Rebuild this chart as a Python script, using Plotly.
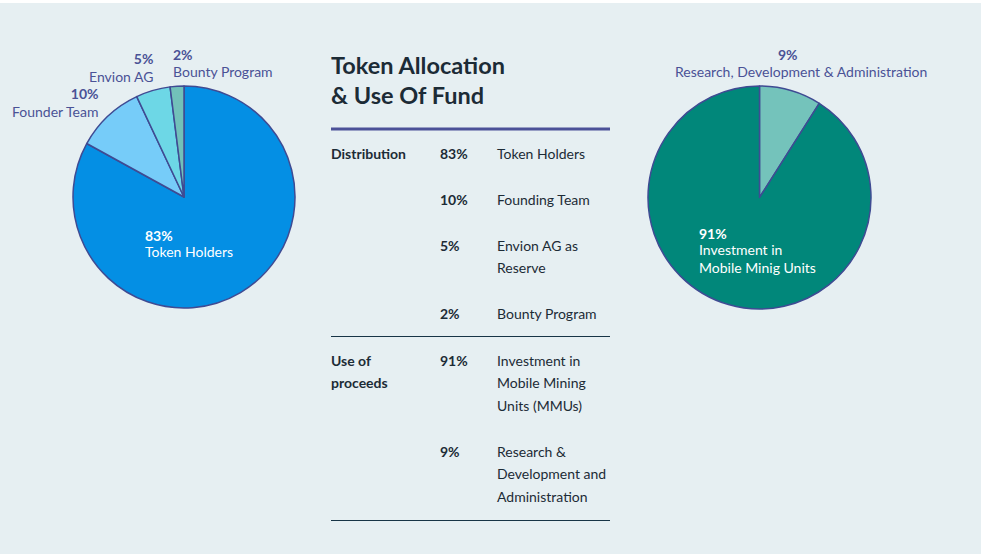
import plotly.graph_objects as go

W, H = 981, 554

# ---- data ----
dist_labels = ["Token Holders", "Founder Team", "Envion AG", "Bounty Program"]
dist_values = [83, 10, 5, 2]
dist_colors = ["#048fe4", "#76ccf9", "#6dd7e6", "#72c1b9"]

fund_labels = ["Investment in<br>Mobile Minig Units", "Research, Development & Administration"]
fund_values = [91, 9]
fund_colors = ["#01877a", "#74c3bb"]
fund_order = [1, 0]  # clockwise from top: Research first

table_title = ["Token Allocation", "& Use Of Fund"]
table_rows = [
    # (section, pct, description lines, y of first line)
    ("Distribution", "83%", ["Token Holders"], 155),
    ("", "10%", ["Founding Team"], 200),
    ("", "5%", ["Envion AG as", "Reserve"], 246),
    ("", "2%", ["Bounty Program"], 314),
    ("Use of<br>proceeds", "91%", ["Investment in", "Mobile Mining", "Units (MMUs)"], 361),
    ("", "9%", ["Research &", "Development and", "Administration"], 452),
]

BG = "#e6eff2"
EDGE = "#3f4b93"
LABEL = "#4a5296"
DARK = "#1c2b36"
FONT = "Lato"
PAD = 2   # annotation internal padding compensation
DY = -1   # vertical nudge


def px(x):
    return x / W


def py(y):
    return 1 - y / H


fig = go.Figure()

fig.add_trace(go.Pie(
    labels=dist_labels, values=dist_values, sort=False, direction="clockwise",
    rotation=0, marker=dict(colors=dist_colors, line=dict(color=EDGE, width=1.5)),
    textinfo="none", hoverinfo="label+percent", showlegend=False,
    domain=dict(x=[px(73), px(295)], y=[py(308), py(86)]),
))

fig.add_trace(go.Pie(
    labels=[fund_labels[i] for i in fund_order], values=[fund_values[i] for i in fund_order],
    sort=False, direction="clockwise", rotation=0,
    marker=dict(colors=[fund_colors[i] for i in fund_order], line=dict(color=EDGE, width=1.5)),
    textinfo="none", hoverinfo="label+percent", showlegend=False,
    domain=dict(x=[px(648), px(871)], y=[py(309), py(86)]),
))

ann = []


def txt(x, y, s, size=14, color=LABEL, xanchor="left", bold=False):
    if bold:
        s = "<b>" + s + "</b>"
    if xanchor == "left":
        x -= PAD
    elif xanchor == "right":
        x += PAD
    ann.append(dict(x=px(x), y=py(y + DY), xref="paper", yref="paper", text=s, showarrow=False,
                    xanchor=xanchor, yanchor="middle", align=xanchor if xanchor != "center" else "center",
                    font=dict(family=FONT, size=size, color=color)))


# left pie labels
lbl = dict(zip(dist_labels, dist_values))
txt(153, 69, f"<b>{lbl['Envion AG']}%</b><br>Envion AG", xanchor="right")
txt(173, 56, f"{lbl['Bounty Program']}%", bold=True)
txt(173, 72, "Bounty Program")
txt(99, 104, f"<b>{lbl['Founder Team']}%</b><br>Founder Team", xanchor="right")
txt(145, 236, f"{lbl['Token Holders']}%", color="white", bold=True)
txt(145, 252, "Token Holders", color="white")

# right pie labels
txt(788, 56, f"{fund_values[1]}%", xanchor="center", bold=True)
txt(801, 72, fund_labels[1], xanchor="center")
txt(699, 234, f"{fund_values[0]}%", color="white", bold=True)
txt(699, 251, "Investment in", color="white")
txt(699, 268, "Mobile Minig Units", color="white")

# table
txt(331, 66, table_title[0], size=23.5, color=DARK, bold=True)
txt(331, 96, table_title[1], size=23.5, color=DARK, bold=True)
LH = 22.6
for sec, pct, desc, y0 in table_rows:
    if sec:
        for i, part in enumerate(sec.split("<br>")):
            txt(331, y0 + i * LH, part, size=14, color=DARK, bold=True)
    txt(440, y0, pct, size=14, color=DARK, bold=True)
    for i, d in enumerate(desc):
        txt(497, y0 + i * LH, d, size=14, color=DARK)

shapes = [
    dict(type="rect", xref="paper", yref="paper", x0=0, x1=1, y0=py(3), y1=1,
         fillcolor="white", line=dict(width=0), layer="below"),
    dict(type="line", xref="paper", yref="paper", x0=px(331), x1=px(610), y0=py(129), y1=py(129),
         line=dict(color="#4b5198", width=3)),
    dict(type="line", xref="paper", yref="paper", x0=px(331), x1=px(610), y0=py(336.5), y1=py(336.5),
         line=dict(color="#173446", width=1)),
    dict(type="line", xref="paper", yref="paper", x0=px(331), x1=px(610), y0=py(520.5), y1=py(520.5),
         line=dict(color="#173446", width=1)),
]

fig.update_layout(
    width=W, height=H, margin=dict(l=0, r=0, t=0, b=0),
    paper_bgcolor=BG, plot_bgcolor=BG,
    annotations=ann, shapes=shapes, showlegend=False,
    font=dict(family=FONT),
)

fig.write_html("out.html")
